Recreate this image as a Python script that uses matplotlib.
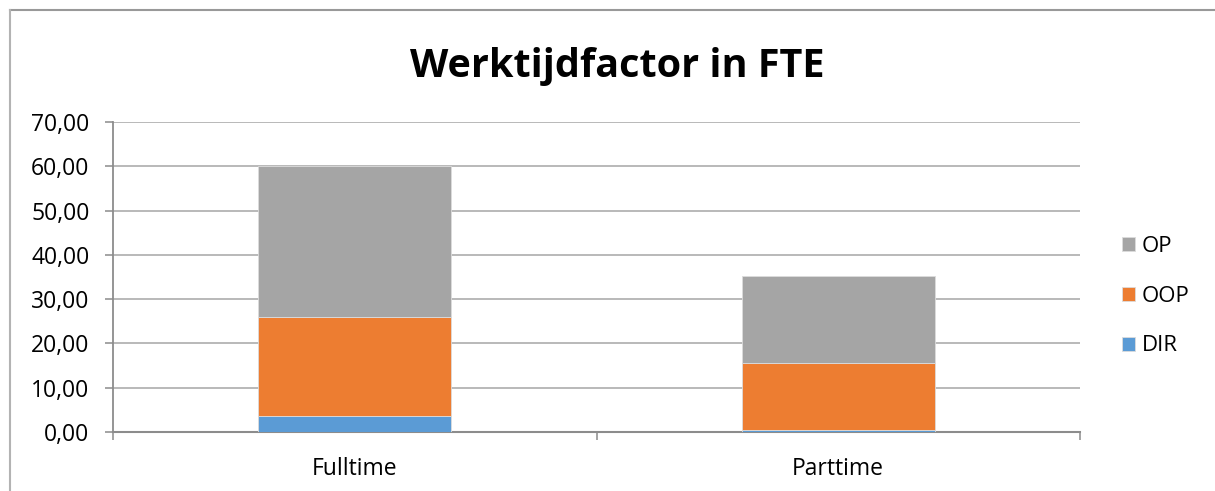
import matplotlib.pyplot as plt
import numpy as np
from matplotlib.ticker import FuncFormatter
from matplotlib.lines import Line2D

categories = ["Fulltime", "Parttime"]
dir_vals = [3.6, 0.5]
oop_vals = [22.3, 15.1]
op_vals = [34.1, 19.7]

c_dir = "#5b9bd5"
c_oop = "#ed7d31"
c_op = "#a5a5a5"

plt.rcParams["font.family"] = ["Open Sans", "DejaVu Sans"]

fig = plt.figure(figsize=(12.15, 4.91), dpi=100)
ax = fig.add_axes([113 / 1215, 1 - 432 / 491, (1080 - 113) / 1215, 310 / 491])

x = np.arange(len(categories))
w = 0.4
b1 = ax.bar(x, dir_vals, w, color=c_dir, label="DIR", edgecolor="#dcdcdc", lw=0.6, zorder=3)
b2 = ax.bar(x, oop_vals, w, bottom=dir_vals, color=c_oop, label="OOP", edgecolor="#dcdcdc", lw=0.6, zorder=3)
bottom2 = np.array(dir_vals) + np.array(oop_vals)
b3 = ax.bar(x, op_vals, w, bottom=bottom2, color=c_op, label="OP", edgecolor="#dcdcdc", lw=0.6, zorder=3)

ax.set_xlim(-0.5, 1.5)
ax.set_ylim(0, 70)
ax.set_yticks(np.arange(0, 71, 10))
ax.yaxis.set_major_formatter(FuncFormatter(lambda v, p: f"{v:.2f}".replace(".", ",")))
ax.set_xticks(x)
ax.set_xticklabels(categories)
ax.set_xticks([-0.5, 0.5, 1.5], minor=True)

ax.grid(axis="y", color="#a6a6a6", lw=1.1, zorder=0)
for s in ["top", "right"]:
    ax.spines[s].set_visible(False)
ax.spines["left"].set_color("#8c8c8c")
ax.spines["bottom"].set_color("#8c8c8c")
ax.spines["left"].set_linewidth(1.3)
ax.spines["bottom"].set_linewidth(1.5)

ax.tick_params(axis="y", length=6, color="#8c8c8c", width=1.1, labelsize=16.5, pad=11)
ax.tick_params(axis="x", which="major", length=0, labelsize=16.5, pad=18)
ax.tick_params(axis="x", which="minor", length=6, color="#8c8c8c", width=1.1)

fig.text(0.508, 1 - 66 / 491, "Werktijdfactor in FTE", ha="center", va="center",
         fontsize=28.5, fontweight="bold")

handles = [b3, b2, b1]
fig.legend(handles, ["OP", "OOP", "DIR"], loc="center left",
           bbox_to_anchor=(1102 / 1215, 1 - 296 / 491), frameon=False,
           fontsize=16, handlelength=0.6, handleheight=0.6, handletextpad=0.3,
           labelspacing=1.3)

# outer chart border (top and left)
fig.add_artist(Line2D([9.5 / 1215, 1], [1 - 9.5 / 491, 1 - 9.5 / 491], color="#999999", lw=1.5))
fig.add_artist(Line2D([9.5 / 1215, 9.5 / 1215], [0, 1 - 9.5 / 491], color="#b3b3b3", lw=1.5))

fig.savefig("out.png", dpi=100)
